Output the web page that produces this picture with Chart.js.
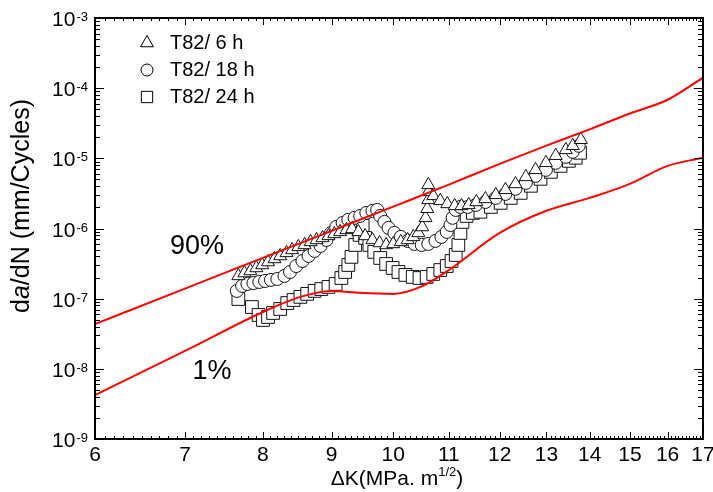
<!DOCTYPE html>
<html>
<head>
<meta charset="utf-8">
<script src="https://cdn.jsdelivr.net/npm/chart.js@4.4.1/dist/chart.umd.min.js"></script>
<style>
  body { margin: 0; background: #fff; }
</style>
</head>
<body>
<canvas id="fcgChart" width="713" height="492"></canvas>
<script>
// dK in MPa.m^1/2, da/dN in mm/cycle
const dK6h = [7.67,7.75,7.83,7.91,7.99,8.07,8.16,8.24,8.33,8.41,8.50,8.59,8.68,8.77,8.86,8.95,9.04,9.13,9.23,9.32,9.42,9.53,9.65,9.77,9.88,10.00,10.13,10.25,10.35,10.44,10.51,10.57,10.60,10.62,10.62,10.62,10.71,10.84,10.97,11.11,11.24,11.38,11.53,11.71,11.92,12.12,12.33,12.55,12.76,12.99,13.21,13.44,13.60,13.79];
const rate6h = [2.11e-7,2.32e-7,2.48e-7,2.74e-7,3.02e-7,3.33e-7,3.68e-7,4.06e-7,4.49e-7,4.95e-7,5.47e-7,5.83e-7,6.44e-7,6.87e-7,7.34e-7,7.84e-7,8.37e-7,8.95e-7,9.55e-7,9.87e-7,8.95e-7,7.84e-7,6.87e-7,6.22e-7,5.83e-7,6.03e-7,6.44e-7,6.87e-7,7.59e-7,8.65e-7,1.05e-6,1.42e-6,1.91e-6,2.56e-6,3.33e-6,4.19e-6,2.92e-6,2.48e-6,2.24e-6,2.10e-6,2.10e-6,2.17e-6,2.39e-6,2.64e-6,3.02e-6,3.56e-6,4.32e-6,5.44e-6,6.86e-6,8.63e-6,1.09e-5,1.32e-5,1.51e-5,1.84e-5];

const dK18h = [7.65,7.72,7.79,7.87,7.95,8.03,8.11,8.20,8.30,8.38,8.47,8.56,8.65,8.74,8.83,8.92,8.99,9.07,9.17,9.26,9.36,9.45,9.55,9.65,9.73,9.78,9.85,9.92,10.02,10.13,10.25,10.37,10.50,10.62,10.75,10.86,10.96,11.03,11.07,11.13,11.22,11.36,11.52,11.71,11.92,12.12,12.33,12.55,12.76,12.99,13.21,13.44,13.60,13.74];
const rate18h = [1.29e-7,1.52e-7,1.62e-7,1.67e-7,1.73e-7,1.79e-7,1.85e-7,1.91e-7,2.11e-7,2.40e-7,2.92e-7,3.44e-7,4.06e-7,4.79e-7,5.65e-7,6.87e-7,8.65e-7,1.05e-6,1.20e-6,1.33e-6,1.42e-6,1.51e-6,1.67e-6,1.78e-6,1.84e-6,1.51e-6,1.24e-6,1.02e-6,8.65e-7,7.59e-7,6.65e-7,6.03e-7,5.83e-7,6.03e-7,6.65e-7,7.59e-7,8.95e-7,1.12e-6,1.42e-6,1.84e-6,2.03e-6,2.03e-6,2.17e-6,2.39e-6,2.73e-6,3.11e-6,3.68e-6,4.47e-6,5.62e-6,6.86e-6,8.63e-6,1.05e-5,1.24e-5,1.51e-5];

const dK24h = [7.67,7.85,7.94,8.00,8.07,8.14,8.24,8.34,8.43,8.53,8.63,8.74,8.84,8.95,9.06,9.15,9.21,9.26,9.31,9.37,9.44,9.49,9.53,9.60,9.68,9.78,9.88,9.99,10.09,10.21,10.34,10.46,10.59,10.71,10.84,10.96,11.05,11.13,11.18,11.22,11.26,11.34,11.46,11.61,11.82,12.02,12.23,12.44,12.66,12.87,13.10,13.32,13.51,13.67,13.77];
const rate24h = [9.89e-8,7.60e-8,5.85e-8,4.97e-8,5.48e-8,6.25e-8,7.13e-8,8.67e-8,9.57e-8,1.06e-7,1.17e-7,1.29e-7,1.37e-7,1.47e-7,1.62e-7,1.97e-7,2.40e-7,3.02e-7,3.94e-7,5.83e-7,8.11e-7,1.09e-6,7.34e-7,5.83e-7,4.64e-7,3.80e-7,3.12e-7,2.74e-7,2.40e-7,2.18e-7,2.04e-7,1.97e-7,2.04e-7,2.25e-7,2.56e-7,2.92e-7,3.44e-7,4.20e-7,5.83e-7,8.65e-7,1.24e-6,1.51e-6,1.67e-6,1.73e-6,2.03e-6,2.32e-6,2.73e-6,3.22e-6,4.06e-6,5.10e-6,6.42e-6,7.81e-6,9.21e-6,1.02e-5,1.20e-5];

// scatter band limits
const dK90 = [6,7,8,9,10,11,12,13,14,15,16,17];
const rate90 = [4.36e-8,1.39e-7,3.82e-7,9.27e-7,2.05e-6,4.22e-6,8.35e-6,1.52e-5,2.59e-5,4.36e-5,6.84e-5,1.41e-4];
const dK1 = [6,7,8,8.53,8.99,9.45,10,10.48,11,12,13,14,15,16,17];
const rate1 = [4.23e-9,1.80e-8,6.46e-8,1.06e-7,1.29e-7,1.21e-7,1.17e-7,1.47e-7,2.56e-7,8.65e-7,1.79e-6,2.73e-6,4.33e-6,7.81e-6,1.02e-5];

const xTicks = [6,7,8,9,10,11,12,13,14,15,16,17];
const yExps = [-9,-8,-7,-6,-5,-4,-3];

const FONT = "'Liberation Sans', Arial, sans-serif";

function pts(xs, ys) {
  return xs.map((v, i) => ({x: v, y: ys[i]}));
}

function line(ctx, x1, y1, x2, y2) {
  ctx.beginPath();
  ctx.moveTo(x1, y1);
  ctx.lineTo(x2, y2);
  ctx.stroke();
}

// draws the parts of a label one after another, each with its own font / offset
function drawParts(ctx, parts, x0, y0) {
  let w = 0;
  parts.forEach(p => { ctx.font = p.font; w += ctx.measureText(p.t).width; });
  let x = x0 - w / 2;
  parts.forEach(p => {
    ctx.font = p.font;
    ctx.fillText(p.t, x, y0 + (p.dy || 0));
    x += ctx.measureText(p.t).width;
  });
}

const axesPlugin = {
  id: 'axesPlugin',
  afterDatasetsDraw(chart) {
    const ctx = chart.ctx;
    const a = chart.chartArea;
    const xs = chart.scales.x, ys = chart.scales.y;
    ctx.save();
    ctx.strokeStyle = '#000';
    ctx.fillStyle = '#000';
    ctx.lineWidth = 1;

    // inward ticks on all four sides
    yExps.forEach(e => {
      for (let m = 1; m < 10; m++) {
        if (e === -3 && m > 1) break;
        const py = Math.round(ys.getPixelForValue(m * Math.pow(10, e))) + 0.5;
        const len = m === 1 ? 9 : 5;
        line(ctx, a.left, py, a.left + len, py);
        line(ctx, a.right, py, a.right - len, py);
      }
    });
    for (let k = 60; k <= 170; k++) {
      const px = Math.round(xs.getPixelForValue(k / 10)) + 0.5;
      const len = k % 10 === 0 ? 7 : 3;
      line(ctx, px, a.bottom, px, a.bottom - len);
      line(ctx, px, a.top, px, a.top + len);
    }

    ctx.lineWidth = 2;
    ctx.strokeRect(a.left, a.top, a.right - a.left, a.bottom - a.top);

    // y tick labels 10^n
    ctx.textBaseline = 'alphabetic';
    ctx.textAlign = 'right';
    yExps.forEach(e => {
      const py = ys.getPixelForValue(Math.pow(10, e));
      const ex = String(e);
      ctx.font = '13px ' + FONT;
      const w = ctx.measureText(ex).width;
      ctx.fillText(ex, 88, py + 3);
      ctx.font = '21px ' + FONT;
      ctx.fillText('10', 88 - w - 1, py + 8);
    });

    // x tick labels
    ctx.textAlign = 'center';
    ctx.font = '21px ' + FONT;
    xTicks.forEach(v => {
      ctx.fillText(String(v), xs.getPixelForValue(v), 461);
    });

    // axis titles
    ctx.textAlign = 'left';
    drawParts(ctx, [
      {t: '\u0394K(MPa. m', font: '21px ' + FONT},
      {t: '1/2', font: '13px ' + FONT, dy: -9},
      {t: ')', font: '21px ' + FONT}
    ], 397, 485);

    ctx.save();
    ctx.translate(22, 206);
    ctx.rotate(-Math.PI / 2);
    ctx.textBaseline = 'middle';
    drawParts(ctx, [
      {t: 'd', font: '25px ' + FONT},
      {t: 'a', font: 'italic 25px ' + FONT},
      {t: '/dN (mm/Cycles)', font: '25px ' + FONT}
    ], 0, 0);
    ctx.restore();

    // band labels
    ctx.textAlign = 'center';
    ctx.textBaseline = 'middle';
    ctx.font = '27px ' + FONT;
    ctx.fillText('90%', 197, 247);
    ctx.fillText('1%', 212, 372);

    // legend
    const rows = [2, 3, 4];
    ctx.textAlign = 'left';
    ctx.font = '20px ' + FONT;
    rows.forEach((di, i) => {
      const ds = chart.data.datasets[di];
      const ly = 43 + i * 27;
      ctx.lineWidth = 1;
      ctx.strokeStyle = '#000';
      ctx.fillStyle = '#fff';
      Chart.helpers.drawPoint(ctx, {pointStyle: ds.pointStyle, radius: ds.legendRadius, rotation: 0, borderWidth: 1}, 147, ly);
      ctx.fillStyle = '#000';
      ctx.fillText(ds.label, 170, ly);
    });

    ctx.restore();
  }
};

const marker = {
  showLine: false,
  backgroundColor: '#fff',
  borderColor: '#111',
  pointBorderWidth: 1
};

new Chart(document.getElementById('fcgChart'), {
  type: 'scatter',
  data: {
    datasets: [
      {
        label: '90%', data: pts(dK90, rate90), showLine: true,
        borderColor: '#ff0000', borderWidth: 2, pointRadius: 0,
        cubicInterpolationMode: 'monotone'
      },
      {
        label: '1%', data: pts(dK1, rate1), showLine: true,
        borderColor: '#ff0000', borderWidth: 2, pointRadius: 0,
        cubicInterpolationMode: 'monotone'
      },
      Object.assign({label: 'T82/ 6 h', data: pts(dK6h, rate6h), pointStyle: 'triangle', pointRadius: 7.5, legendRadius: 7.5}, marker),
      Object.assign({label: 'T82/ 18 h', data: pts(dK18h, rate18h), pointStyle: 'circle', pointRadius: 6.5, legendRadius: 6}, marker),
      Object.assign({label: 'T82/ 24 h', data: pts(dK24h, rate24h), pointStyle: 'rect', pointRadius: 9, legendRadius: 8}, marker)
    ]
  },
  options: {
    responsive: false,
    animation: false,
    events: [],
    layout: {
      padding: {left: 95, right: 10, top: 18, bottom: 53}
    },
    plugins: {
      legend: {display: false},
      tooltip: {enabled: false}
    },
    scales: {
      x: {type: 'logarithmic', min: 6, max: 17, display: false},
      y: {type: 'logarithmic', min: 1e-9, max: 1e-3, display: false}
    }
  },
  plugins: [axesPlugin]
});
</script>
</body>
</html>
